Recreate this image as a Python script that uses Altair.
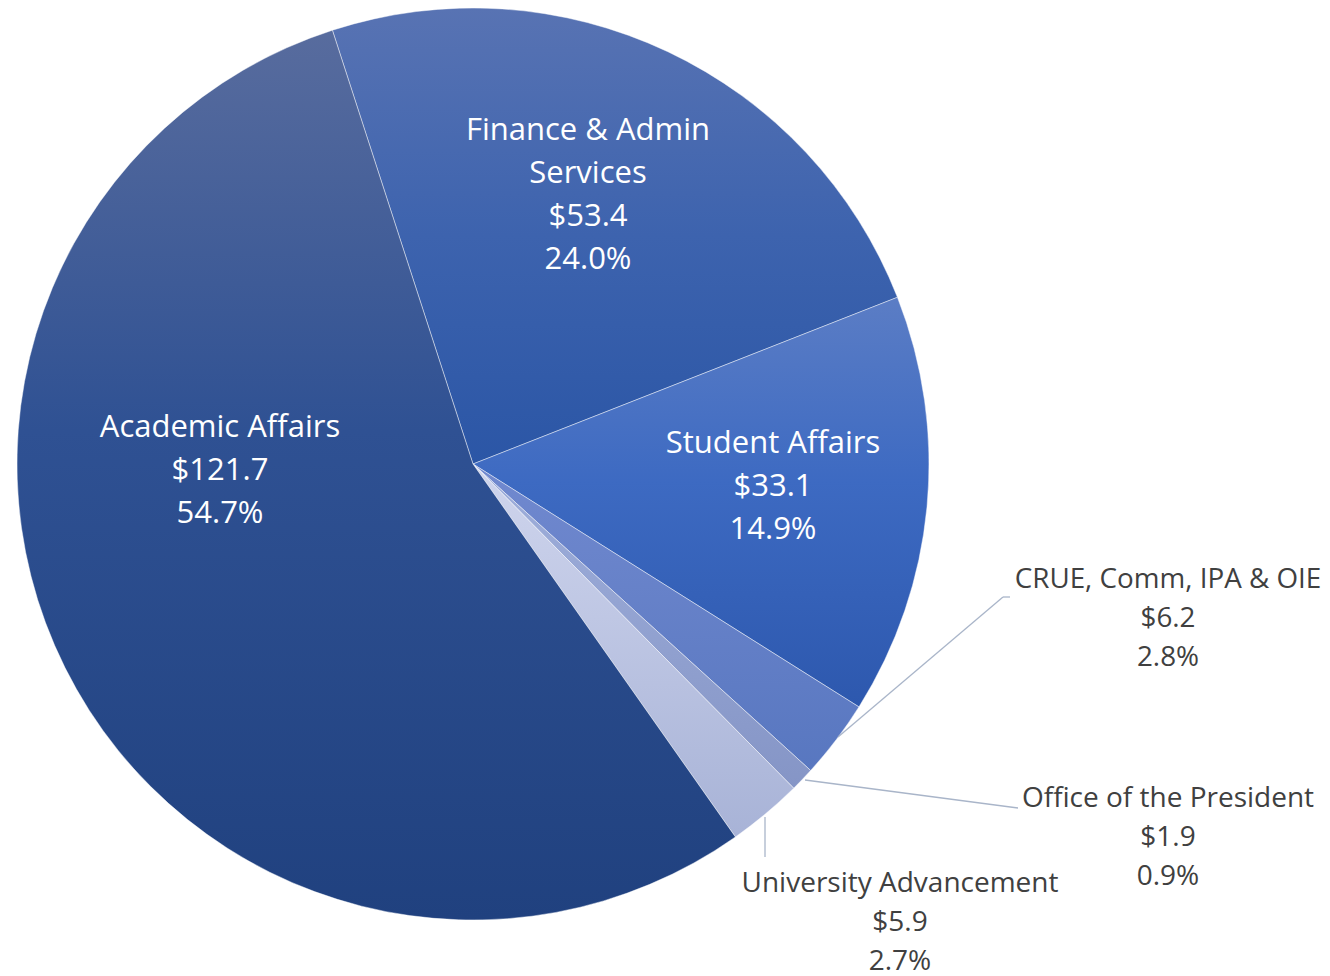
import math
import altair as alt
import pandas as pd

# ---- data ----
categories = [
    "Finance & Admin Services",
    "Student Affairs",
    "CRUE, Comm, IPA & OIE",
    "Office of the President",
    "University Advancement",
    "Academic Affairs",
]
label_names = [
    "Finance & Admin\nServices",
    "Student Affairs",
    "CRUE, Comm, IPA & OIE",
    "Office of the President",
    "University Advancement",
    "Academic Affairs",
]
values = [53.4, 33.1, 6.2, 1.9, 5.9, 121.7]
percents = [24.0, 14.9, 2.8, 0.9, 2.7, 54.7]

df = pd.DataFrame({
    "category": categories,
    "name": label_names,
    "value": values,
    "pct": percents,
    "order": list(range(len(categories))),
})

TOTAL = sum(values)

# ---- layout / style ----
W, H = 1314, 968
CX, CY, R = 465, 456, 456
START = math.radians(-17.96)
theta_scale = alt.Scale(type="linear", domain=[0, TOTAL], range=[START, START + 2 * math.pi])

gradients = {
    "Finance & Admin Services": [("#5873b3", 0), ("#3d63ae", 0.5), ("#2b56a6", 1)],
    "Student Affairs": [("#5b7dc5", 0), ("#3d6ac2", 0.45), ("#2d58ae", 1)],
    "CRUE, Comm, IPA & OIE": [("#7189cf", 0), ("#5877c0", 1)],
    "Office of the President": [("#9fafdb", 0), ("#8595c6", 1)],
    "University Advancement": [("#cfd5ed", 0), ("#a8b3d7", 1)],
    "Academic Affairs": [("#586c9e", 0), ("#2f5193", 0.45), ("#20417f", 1)],
}

FONT = "Open Sans"
labels_layout = {
    # category: (x, y of first line, size, lineHeight, color)
    "Finance & Admin Services": (580, 123, 31, 43, "white"),
    "Student Affairs": (765, 436, 31, 43, "white"),
    "CRUE, Comm, IPA & OIE": (1160, 572, 27.8, 39, "#404040"),
    "Office of the President": (1160, 791, 28, 39, "#404040"),
    "University Advancement": (892, 876, 28, 39, "#404040"),
    "Academic Affairs": (212, 420, 31, 43, "white"),
}

leaders = {
    "CRUE, Comm, IPA & OIE": [(830, 729, 995, 589), (995, 589, 1002, 589)],
    "Office of the President": [(797, 772, 1010, 800)],
    "University Advancement": [(757, 809, 757, 849)],
}

base = (
    alt.Chart(df)
    .transform_window(cum="sum(value)", sort=[alt.SortField("order")])
    .transform_calculate(
        start="datum.cum - datum.value",
        label="datum.name + '\\n$' + format(datum.value, '.1f') + '\\n' + format(datum.pct, '.1f') + '%'",
    )
)

layers = []
for cat in categories:
    stops = [alt.GradientStop(color=c, offset=o) for c, o in gradients[cat]]
    layers.append(
        base.transform_filter(alt.datum.category == cat)
        .mark_arc(
            radius=R,
            fill=alt.LinearGradient(gradient="linear", stops=stops, x1=0, x2=0, y1=0, y2=1),
            stroke="#ffffff",
            strokeWidth=0.8,
            strokeOpacity=0.55,
        )
        .encode(
            theta=alt.Theta("start:Q", stack=None, scale=theta_scale),
            theta2="cum:Q",
            x=alt.value(CX),
            y=alt.value(CY),
        )
    )

for cat, segs in leaders.items():
    for (x1, y1, x2, y2) in segs:
        layers.append(
            base.transform_filter(alt.datum.category == cat)
            .mark_rule(color="#a9b5c9", strokeWidth=1.3)
            .encode(x=alt.value(x1), y=alt.value(y1), x2=alt.value(x2), y2=alt.value(y2))
        )

for cat in categories:
    x, y, size, lh, color = labels_layout[cat]
    layers.append(
        base.transform_filter(alt.datum.category == cat)
        .mark_text(
            lineBreak="\n",
            align="center",
            baseline="middle",
            font=FONT,
            fontSize=size,
            lineHeight=lh,
            color=color,
        )
        .encode(text="label:N", x=alt.value(x), y=alt.value(y))
    )

chart = (
    alt.layer(*layers)
    .properties(width=W, height=H, autosize=alt.AutoSizeParams(type="none"), padding=0)
    .configure_view(stroke=None)
)

chart.save("out.html", embed_options={"renderer": "svg", "actions": False})
